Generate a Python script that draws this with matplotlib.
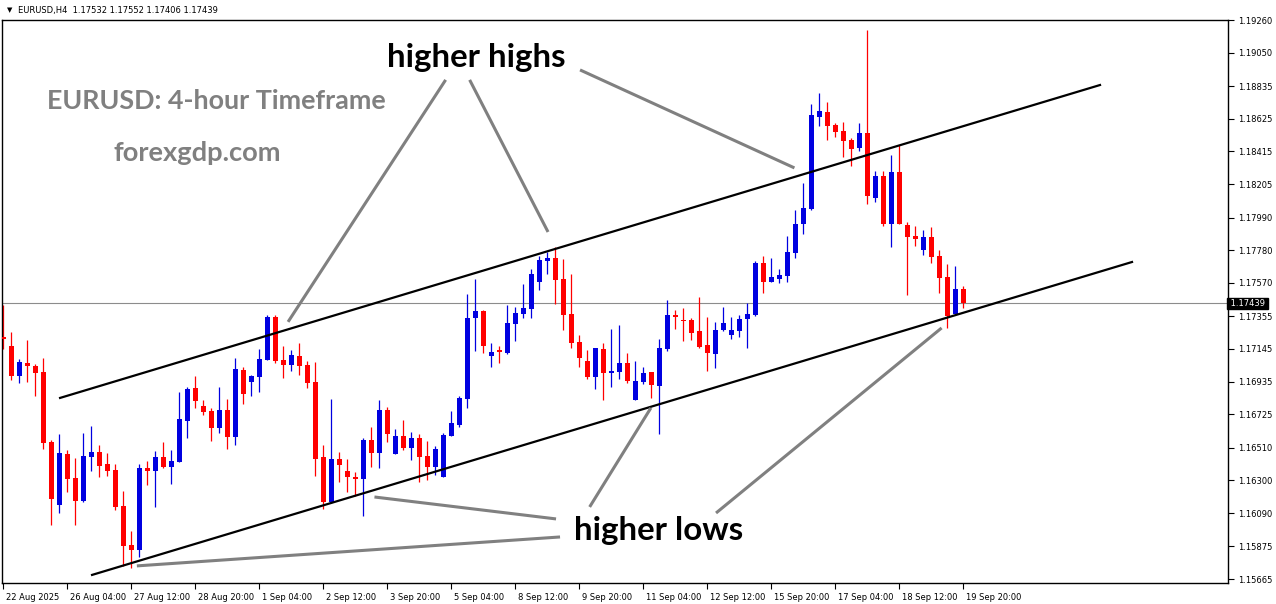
import matplotlib
matplotlib.use('Agg')
import matplotlib.pyplot as plt
import matplotlib.transforms as mtransforms
import numpy as np

# EURUSD H4 candles, 22 Aug 20:00 .. 19 Sep 20:00
opens = [1.17222, 1.17164, 1.16971, 1.17055, 1.17036, 1.16997, 1.16547, 1.16142, 1.16470, 1.16315,
         1.16168, 1.16450, 1.16483, 1.16405, 1.16367, 1.16135, 1.15885, 1.15852, 1.16380, 1.16360,
         1.16450, 1.16386, 1.16418, 1.16682, 1.16894, 1.16778, 1.16746, 1.16637, 1.16753, 1.16579,
         1.17010, 1.16933, 1.16965, 1.17074, 1.17351, 1.17074, 1.17042, 1.17100, 1.17042, 1.16933,
         1.16450, 1.16161, 1.16437, 1.16360, 1.16322, 1.16309, 1.16560, 1.16476, 1.16753, 1.16470,
         1.16585, 1.16508, 1.16573, 1.16457, 1.16386, 1.16322, 1.16585, 1.16656, 1.16824, 1.17344,
         1.17389, 1.17100, 1.17138, 1.17119, 1.17306, 1.17370, 1.17402, 1.17576, 1.17711, 1.17730,
         1.17595, 1.17370, 1.17190, 1.17068, 1.16965, 1.17145, 1.16991, 1.16997, 1.17055, 1.16817,
         1.16933, 1.16997, 1.16907, 1.17145, 1.17364, 1.17331, 1.17331, 1.17261, 1.17171, 1.17113,
         1.17267, 1.17235, 1.17261, 1.17338, 1.17364, 1.17698, 1.17576, 1.17595, 1.17614, 1.17763,
         1.17949, 1.18045, 1.18637, 1.18669, 1.18585, 1.18547, 1.18489, 1.18437, 1.18534, 1.18116,
         1.18257, 1.17949, 1.18283, 1.17942, 1.17872, 1.17782, 1.17865, 1.17743, 1.17608, 1.17370,
         1.17532]
highs = [1.17428, 1.17254, 1.17081, 1.17203, 1.17048, 1.17087, 1.16560, 1.16598, 1.16495, 1.16444,
         1.16605, 1.16650, 1.16528, 1.16476, 1.16405, 1.16232, 1.15975, 1.16405, 1.16425, 1.16489,
         1.16547, 1.16495, 1.16868, 1.16901, 1.16971, 1.16817, 1.16766, 1.16901, 1.16824, 1.17087,
         1.17029, 1.16978, 1.17145, 1.17364, 1.17364, 1.17164, 1.17138, 1.17184, 1.17068, 1.17061,
         1.16528, 1.16824, 1.16483, 1.16437, 1.16354, 1.16573, 1.16643, 1.16817, 1.16772, 1.16630,
         1.16688, 1.16611, 1.16598, 1.16553, 1.16521, 1.16605, 1.16746, 1.16843, 1.17499, 1.17595,
         1.17396, 1.17184, 1.17164, 1.17428, 1.17415, 1.17563, 1.17659, 1.17743, 1.17769, 1.17801,
         1.17724, 1.17627, 1.17235, 1.17138, 1.17151, 1.17184, 1.17274, 1.17299, 1.17119, 1.17068,
         1.17029, 1.16997, 1.17209, 1.17460, 1.17396, 1.17409, 1.17344, 1.17479, 1.17351, 1.17319,
         1.17415, 1.17351, 1.17364, 1.17441, 1.17711, 1.17743, 1.17730, 1.17659, 1.17872, 1.18039,
         1.18212, 1.18720, 1.18791, 1.18733, 1.18598, 1.18605, 1.18502, 1.18598, 1.19196, 1.18289,
         1.18289, 1.18392, 1.18457, 1.17961, 1.17936, 1.17910, 1.17929, 1.17782, 1.17691, 1.17679,
         1.17552]
lows = [1.17145, 1.16946, 1.16926, 1.16933, 1.16843, 1.16502, 1.16013, 1.16090, 1.16225, 1.16013,
        1.16161, 1.16360, 1.16322, 1.16328, 1.16110, 1.15750, 1.15737, 1.15807, 1.16270, 1.16129,
        1.16380, 1.16277, 1.16418, 1.16573, 1.16766, 1.16721, 1.16553, 1.16605, 1.16502, 1.16528,
        1.16791, 1.16843, 1.16868, 1.17074, 1.17055, 1.16958, 1.17003, 1.16978, 1.16894, 1.16328,
        1.16116, 1.16155, 1.16290, 1.16225, 1.16199, 1.16071, 1.16386, 1.16380, 1.16547, 1.16470,
        1.16495, 1.16431, 1.16290, 1.16303, 1.16335, 1.16322, 1.16585, 1.16643, 1.16766, 1.17132,
        1.17119, 1.17029, 1.17055, 1.17113, 1.17196, 1.17344, 1.17344, 1.17524, 1.17627, 1.17434,
        1.17267, 1.17151, 1.17029, 1.16952, 1.16888, 1.16817, 1.16901, 1.16952, 1.16926, 1.16817,
        1.16920, 1.16830, 1.16598, 1.17132, 1.17274, 1.17196, 1.17203, 1.17151, 1.17003, 1.17023,
        1.17261, 1.17209, 1.17222, 1.17151, 1.17357, 1.17505, 1.17576, 1.17569, 1.17576, 1.17730,
        1.17884, 1.18039, 1.18579, 1.18489, 1.18508, 1.18380, 1.18322, 1.18418, 1.18077, 1.18090,
        1.17936, 1.17801, 1.17949, 1.17492, 1.17807, 1.17749, 1.17698, 1.17505, 1.17280, 1.17370,
        1.17406]
closes = [1.17209, 1.16971, 1.17061, 1.17036, 1.16991, 1.16541, 1.16180, 1.16476, 1.16309, 1.16168,
          1.16457, 1.16483, 1.16393, 1.16360, 1.16129, 1.15878, 1.15852, 1.16380, 1.16360, 1.16450,
          1.16386, 1.16425, 1.16695, 1.16888, 1.16811, 1.16740, 1.16637, 1.16753, 1.16579, 1.17016,
          1.16855, 1.16971, 1.17081, 1.17351, 1.17068, 1.17042, 1.17106, 1.17036, 1.16926, 1.16437,
          1.16161, 1.16437, 1.16399, 1.16322, 1.16309, 1.16560, 1.16476, 1.16753, 1.16598, 1.16585,
          1.16508, 1.16573, 1.16450, 1.16386, 1.16502, 1.16592, 1.16669, 1.16830, 1.17344, 1.17389,
          1.17164, 1.17126, 1.17126, 1.17312, 1.17376, 1.17409, 1.17627, 1.17717, 1.17730, 1.17589,
          1.17364, 1.17184, 1.17087, 1.16965, 1.17151, 1.16991, 1.17003, 1.17055, 1.16939, 1.16939,
          1.16991, 1.16913, 1.17151, 1.17364, 1.17351, 1.17325, 1.17248, 1.17158, 1.17119, 1.17267,
          1.17312, 1.17267, 1.17338, 1.17370, 1.17698, 1.17576, 1.17608, 1.17621, 1.17769, 1.17949,
          1.18052, 1.18650, 1.18675, 1.18579, 1.18540, 1.18483, 1.18431, 1.18534, 1.18129, 1.18257,
          1.17949, 1.18283, 1.17949, 1.17865, 1.17852, 1.17865, 1.17737, 1.17602, 1.17357, 1.17532,
          1.17439]

time_labels = ['22 Aug 2025', '26 Aug 04:00', '27 Aug 12:00', '28 Aug 20:00', '1 Sep 04:00',
               '2 Sep 12:00', '3 Sep 20:00', '5 Sep 04:00', '8 Sep 12:00', '9 Sep 20:00',
               '11 Sep 04:00', '12 Sep 12:00', '15 Sep 20:00', '17 Sep 04:00', '18 Sep 12:00',
               '19 Sep 20:00']
price_ticks = [1.19260, 1.19050, 1.18835, 1.18625, 1.18415, 1.18205, 1.17990, 1.17780, 1.17570,
               1.17355, 1.17145, 1.16935, 1.16725, 1.16510, 1.16300, 1.16090, 1.15875, 1.15665]
last_price = 1.17439

# channel lines (bar index, price)
upper_channel = [(7.1, 1.16830), (137.1, 1.18842)]
lower_channel = [(11.1, 1.15692), (141.1, 1.17704)]
# pointer lines from the labels
hh_pointers = [[(55.3, 1.18875), (35.6, 1.17319)],
               [(58.3, 1.18875), (68.1, 1.17897)],
               [(72.1, 1.18939), (98.9, 1.18309)]]
hl_pointers = [[(69.1, 1.16052), (46.4, 1.16193)],
               [(69.6, 1.15936), (16.7, 1.15750)],
               [(73.3, 1.16129), (80.96, 1.16766)],
               [(89.1, 1.16090), (117.3, 1.17280)]]

W, H = 1276, 604
fig = plt.figure(figsize=(W / 100, H / 100), dpi=100)
ax = fig.add_axes([2 / W, 21 / H, 1226 / W, 563 / H])

o = np.array(opens); hi = np.array(highs); lo = np.array(lows); c = np.array(closes)
idx = np.arange(len(o))
bull = c >= o
cols = np.where(bull, '#0000e0', '#ff0000')

ax.vlines(idx, lo, hi, colors=cols, linewidth=0.9, zorder=2)
body_lo = np.minimum(o, c)
body_h = np.maximum(np.abs(c - o), 0.00005)
ax.bar(idx, body_h, bottom=body_lo, width=0.62, color=cols, linewidth=0, zorder=3)

ax.set_xlim(-0.16, 153.1)
ax.set_ylim(1.15640, 1.19260)

# current price line
ax.axhline(last_price, color='#8c8c8c', linewidth=0.8, zorder=1)

for (x0, y0), (x1, y1) in [upper_channel, lower_channel]:
    ax.plot([x0, x1], [y0, y1], color='black', linewidth=1.6, zorder=4)
for seg in hh_pointers + hl_pointers:
    ax.plot([seg[0][0], seg[1][0]], [seg[0][1], seg[1][1]], color='#808080',
            linewidth=2.2, solid_capstyle='butt', zorder=4)

# axes styling like the terminal
for sp in ax.spines.values():
    sp.set_linewidth(1.0)
    sp.set_color('black')
ax.yaxis.tick_right()
ax.set_yticks(price_ticks)
ax.set_yticklabels(['%.5f' % p for p in price_ticks])
ax.tick_params(axis='y', direction='out', length=4, width=0.8, pad=3, labelsize=6)
ax.set_xticks(np.arange(0, 8 * len(time_labels), 8))
ax.set_xticklabels(time_labels)
ax.tick_params(axis='x', direction='out', length=4, width=0.8, pad=3, labelsize=6)
off = mtransforms.ScaledTranslation(2 / 72, 0, fig.dpi_scale_trans)
for lbl in ax.get_xticklabels():
    lbl.set_horizontalalignment('left')
    lbl.set_transform(lbl.get_transform() + off)

ax.text(1.0, last_price, ' %.5f ' % last_price, transform=ax.get_yaxis_transform(),
        ha='left', va='center', fontsize=6, color='white', zorder=6,
        bbox=dict(facecolor='black', edgecolor='black', pad=0.6), clip_on=False)

# header line
fig.text(7 / W, 1 - 10 / H, '\u25bc', fontsize=5, va='center')
fig.text(18 / W, 1 - 10 / H, 'EURUSD,H4  1.17532 1.17552 1.17406 1.17439', fontsize=6, va='center')

big = ['Lato', 'DejaVu Sans']
fig.text(387 / W, 1 - 67 / H, 'higher highs', fontsize=23.8, fontweight='bold', family=big,
         color='black', va='baseline')
fig.text(47 / W, 1 - 109 / H, 'EURUSD: 4-hour Timeframe', fontsize=19.4, fontweight='bold',
         family=big, color='#808080', va='baseline')
fig.text(114 / W, 1 - 161 / H, 'forexgdp.com', fontsize=19.6, fontweight='bold', family=big,
         color='#808080', va='baseline')
fig.text(574 / W, 1 - 540 / H, 'higher lows', fontsize=23.8, fontweight='bold', family=big,
         color='black', va='baseline')

fig.savefig('out.png', dpi=100)
